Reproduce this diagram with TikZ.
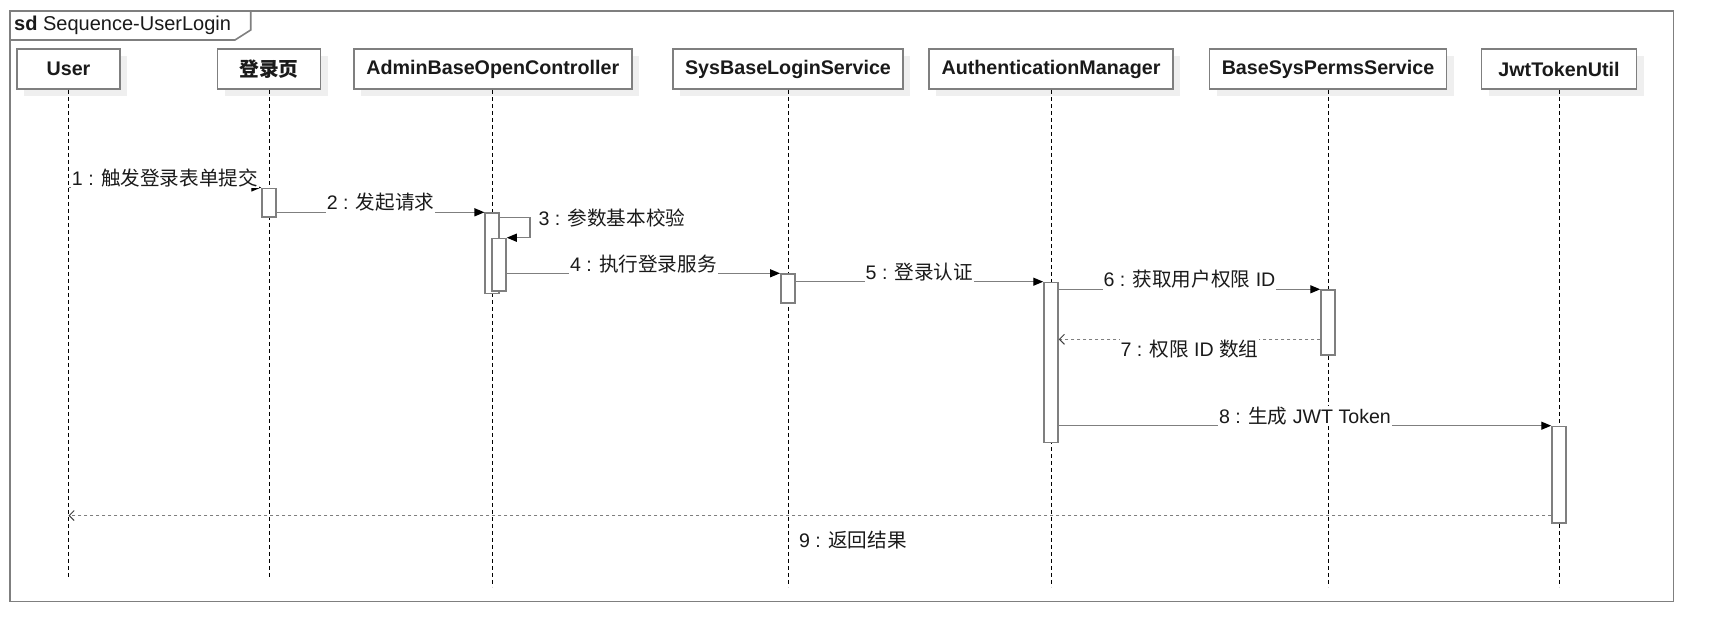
\documentclass[tikz,border=0pt]{standalone}
\usepackage{fontspec}
\setmainfont{Liberation Sans}
\newfontfamily\cjk{Noto Sans CJK SC}
\usetikzlibrary{arrows.meta,positioning,shadows,calc}
\definecolor{edge}{HTML}{7F7F7F}
\definecolor{shade}{HTML}{EFEFEF}
\definecolor{ink}{HTML}{1A1A1A}
\newcommand{\zh}[1]{{\cjk #1}}
\tikzset{
  frameline/.style={draw=edge, line width=1.6pt},
  lifebox/.style={rectangle, draw=edge, fill=white, line width=1.5pt, minimum height=40pt,
                  inner sep=0pt, font=\fontsize{19.7}{22}\selectfont\bfseries, text=ink,
                  drop shadow={shadow xshift=7pt, shadow yshift=-7pt, fill=shade, opacity=1}},
  lifeline/.style={draw=black, line width=0.9pt, dash pattern=on 4pt off 3pt},
  act/.style={rectangle, draw=edge, fill=white, line width=1.5pt, minimum width=14pt,
              inner sep=0pt, anchor=north},
  msg/.style={draw=edge, line width=1.3pt, -{Triangle[length=10pt, width=8pt, color=black]}},
  ret/.style={draw=edge, line width=1.3pt, dash pattern=on 3pt off 3pt,
              -{Straight Barb[length=5pt, width=10pt, line width=1pt, color=black!75]}},
  lbl/.style={font=\fontsize{19.6}{22}\selectfont, text=ink, fill=white, inner sep=1pt}
}
\begin{document}
\begin{tikzpicture}[x=1pt, y=-1pt]
  \useasboundingbox (0,0) rectangle (1714,642);
  \fill[white] (0,0) rectangle (1714,642);

  % frame and tab
  \draw[frameline] (10,11) rectangle (1673.5,601.5);
  \draw[frameline] (10,40) -- (235,40) -- (250.7,30) -- (250.7,11);
  \node[anchor=west, inner sep=0pt, font=\fontsize{20}{22}\selectfont, text=ink] (title) at (14,25)
    {\textbf{sd} Sequence-UserLogin};

  % lifelines
  \foreach \nm/\x/\w/\len/\txt in {user/68.5/103/488/User, page/269/103/488/\zh{登录页},
      ctrl/492.8/278/497/AdminBaseOpenController, login/788/230/497/SysBaseLoginService,
      auth/1051/244/497/AuthenticationManager, perms/1328/237/497/BaseSysPermsService,
      jwt/1559/155/497/JwtTokenUtil}
    { \node[lifebox, minimum width=\w pt] (\nm) at (\x,69) {\txt};
      \draw[lifeline] (\nm.south) -- ++(0,\len); }

  % activations
  \node[act, minimum height=28.5pt] (a1) at (269,187.5) {};
  \node[act, minimum height=80.4pt] (a2) at (492.2,212.3) {};
  \node[act, minimum height=52.3pt] (a3) at (499,237.7) {};
  \node[act, minimum height=28.7pt] (a4) at (787.8,273.3) {};
  \node[act, minimum height=160pt] (a5) at (1051,281.7) {};
  \node[act, minimum height=64.7pt] (a6) at (1328,289.3) {};
  \node[act, minimum height=96.3pt] (a7) at (1559,425.7) {};
  \coordinate (r7) at ($(a6.north west)+(0,50)$);
  \coordinate (r9) at ($(a7.south west)+(0,-8)$);

  % messages
  \draw[msg] (user |- a1.north) -- node[lbl, above=-1pt] (l1) {1 : \zh{触发登录表单提交}} (a1.north west);
  \draw[msg] (a1.east |- a2.north) -- node[lbl, above=-1pt] (l2) {2 : \zh{发起请求}} (a2.north west);
  \draw[msg] ([yshift=-5.4pt]a2.north east) -- ++(30,0) node[lbl, right=7pt] (l3) {3 : \zh{参数基本校验}}
    |- (a3.north east);
  \draw[msg] (a3.east |- a4.north) -- node[lbl, above=-1pt] (l4) {4 : \zh{执行登录服务}} (a4.north west);
  \draw[msg] (a4.east |- a5.north) -- node[lbl, above=-1pt] (l5) {5 : \zh{登录认证}} (a5.north west);
  \draw[msg] (a5.east |- a6.north) -- node[lbl, above=-1pt] (l6) {6 : \zh{获取用户权限} ID} (a6.north west);
  \draw[ret] (r7) -- node[lbl, below=-1pt] (l7) {7 : \zh{权限} ID \zh{数组}} (r7 -| a5.east);
  \draw[msg] (a5.east |- a7.north) -- node[lbl, above=-1pt] (l8) {8 : \zh{生成} JWT Token} (a7.north west);
  \draw[ret] (r9) -- node[lbl, pos=0.471, below=14pt] (l9) {9 : \zh{返回结果}} (r9 -| user);
\end{tikzpicture}
\end{document}
